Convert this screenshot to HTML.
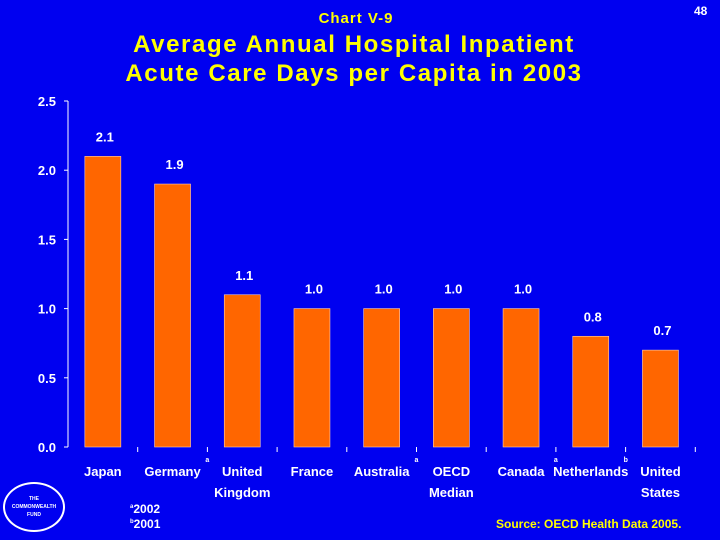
<!DOCTYPE html>
<html><head><meta charset="utf-8"><style>
body{margin:0;background:#0000f0;}
#c{position:relative;width:720px;height:540px;background:#0000f0;overflow:hidden;font-family:"Liberation Sans",sans-serif;font-weight:bold;color:#fff}
.t{position:absolute;white-space:nowrap}
</style></head><body>
<div id="c">
<div class="t" style="left:0;width:720px;top:10px;text-align:center;font-size:15px;letter-spacing:1px;color:#ffff00;margin-left:-4px">Chart V-9</div>
<div class="t" style="left:694px;top:4px;font-size:12px">48</div>
<div class="t" style="left:0;width:720px;top:30px;text-align:center;font-size:24px;letter-spacing:1.6px;line-height:29px;color:#ffff00;margin-left:-6px">Average Annual Hospital Inpatient<br>Acute Care Days per Capita in 2003</div>
<svg id="s" width="720" height="540" style="position:absolute;left:0;top:0"></svg>
<div style="position:absolute;left:3px;top:482px;width:62px;height:50px;border:2px solid #fff;border-radius:50%;box-sizing:border-box;font-size:5px;text-align:center;line-height:8px;padding-top:11px">THE<br>COMMONWEALTH<br>FUND</div>
<div class="t" style="left:130px;top:502px;font-size:12px"><sup style="font-size:6px">a</sup>2002</div>
<div class="t" style="left:130px;top:517px;font-size:12px"><sup style="font-size:6px">b</sup>2001</div>
<div class="t" style="left:496px;top:517px;font-size:12px;color:#ffff00">Source: OECD Health Data 2005.</div>
</div>
<script>
const categories=["Japan","Germany","United|Kingdom","France","Australia","OECD|Median","Canada","Netherlands","United|States"];
const values=[2.1,1.9,1.1,1.0,1.0,1.0,1.0,0.8,0.7];
const valueLabels=["2.1","1.9","1.1","1.0","1.0","1.0","1.0","0.8","0.7"];
const notes=["","a","","","a","","a","b",""];
const yTicks=[0,0.5,1.0,1.5,2.0,2.5];
const yTickLabels=["0.0","0.5","1.0","1.5","2.0","2.5"];
const NS="http://www.w3.org/2000/svg",s=document.getElementById('s');
const x0=68,step=69.7,yb=447,yt=101,ymax=2.5;
const y=v=>yb-(yb-yt)*v/ymax;
const xc=i=>x0+step*(i+0.5);
function mk(t,a,txt){const e=document.createElementNS(NS,t);for(const k in a)e.setAttribute(k,a[k]);if(txt!=null)e.textContent=txt;s.appendChild(e);return e;}
let e=mk('line',{x1:x0,y1:yt,x2:x0,y2:yb,stroke:'#fff','stroke-width':1});


yTicks.forEach((v,i)=>{
 let l=mk('line',{x1:x0-4,x2:x0,y1:y(v),y2:y(v),stroke:'#fff'});
 
 
 let t=mk('text',{x:56,y:y(v)+5,'text-anchor':'end','font-size':13,'font-weight':'bold',fill:'#fff','font-family':'Liberation Sans'},yTickLabels[i]);
 
 
});
categories.forEach((c,i)=>{
 let r=mk('rect',{x:xc(i)-18,y:y(values[i]),width:36,height:yb-y(values[i]),fill:'#ff6600',stroke:'#ffd0b0','stroke-width':0.6});
 
 
 let v=mk('text',{x:xc(i)+2,y:y(values[i])-15,'text-anchor':'middle','font-size':13,'font-weight':'bold',fill:'#fff','font-family':'Liberation Sans'},valueLabels[i]);
 
 
 let tk=mk('line',{x1:x0+step*(i+1),x2:x0+step*(i+1),y1:yb,y2:yb+5,stroke:'#fff'});
 
 
 c.split('|').forEach((ln,j)=>{
  let t=mk('text',{x:xc(i),y:476+j*21,'text-anchor':'middle','font-size':13,'font-weight':'bold',fill:'#fff','font-family':'Liberation Sans'},ln);
  
  
 });
 if(notes[i]){let n=mk('text',{x:x0+step*(i+1)-2,y:462,'font-size':7,fill:'#fff','font-family':'Liberation Sans'},notes[i]);
  
  }
});
</script>
</body></html>
